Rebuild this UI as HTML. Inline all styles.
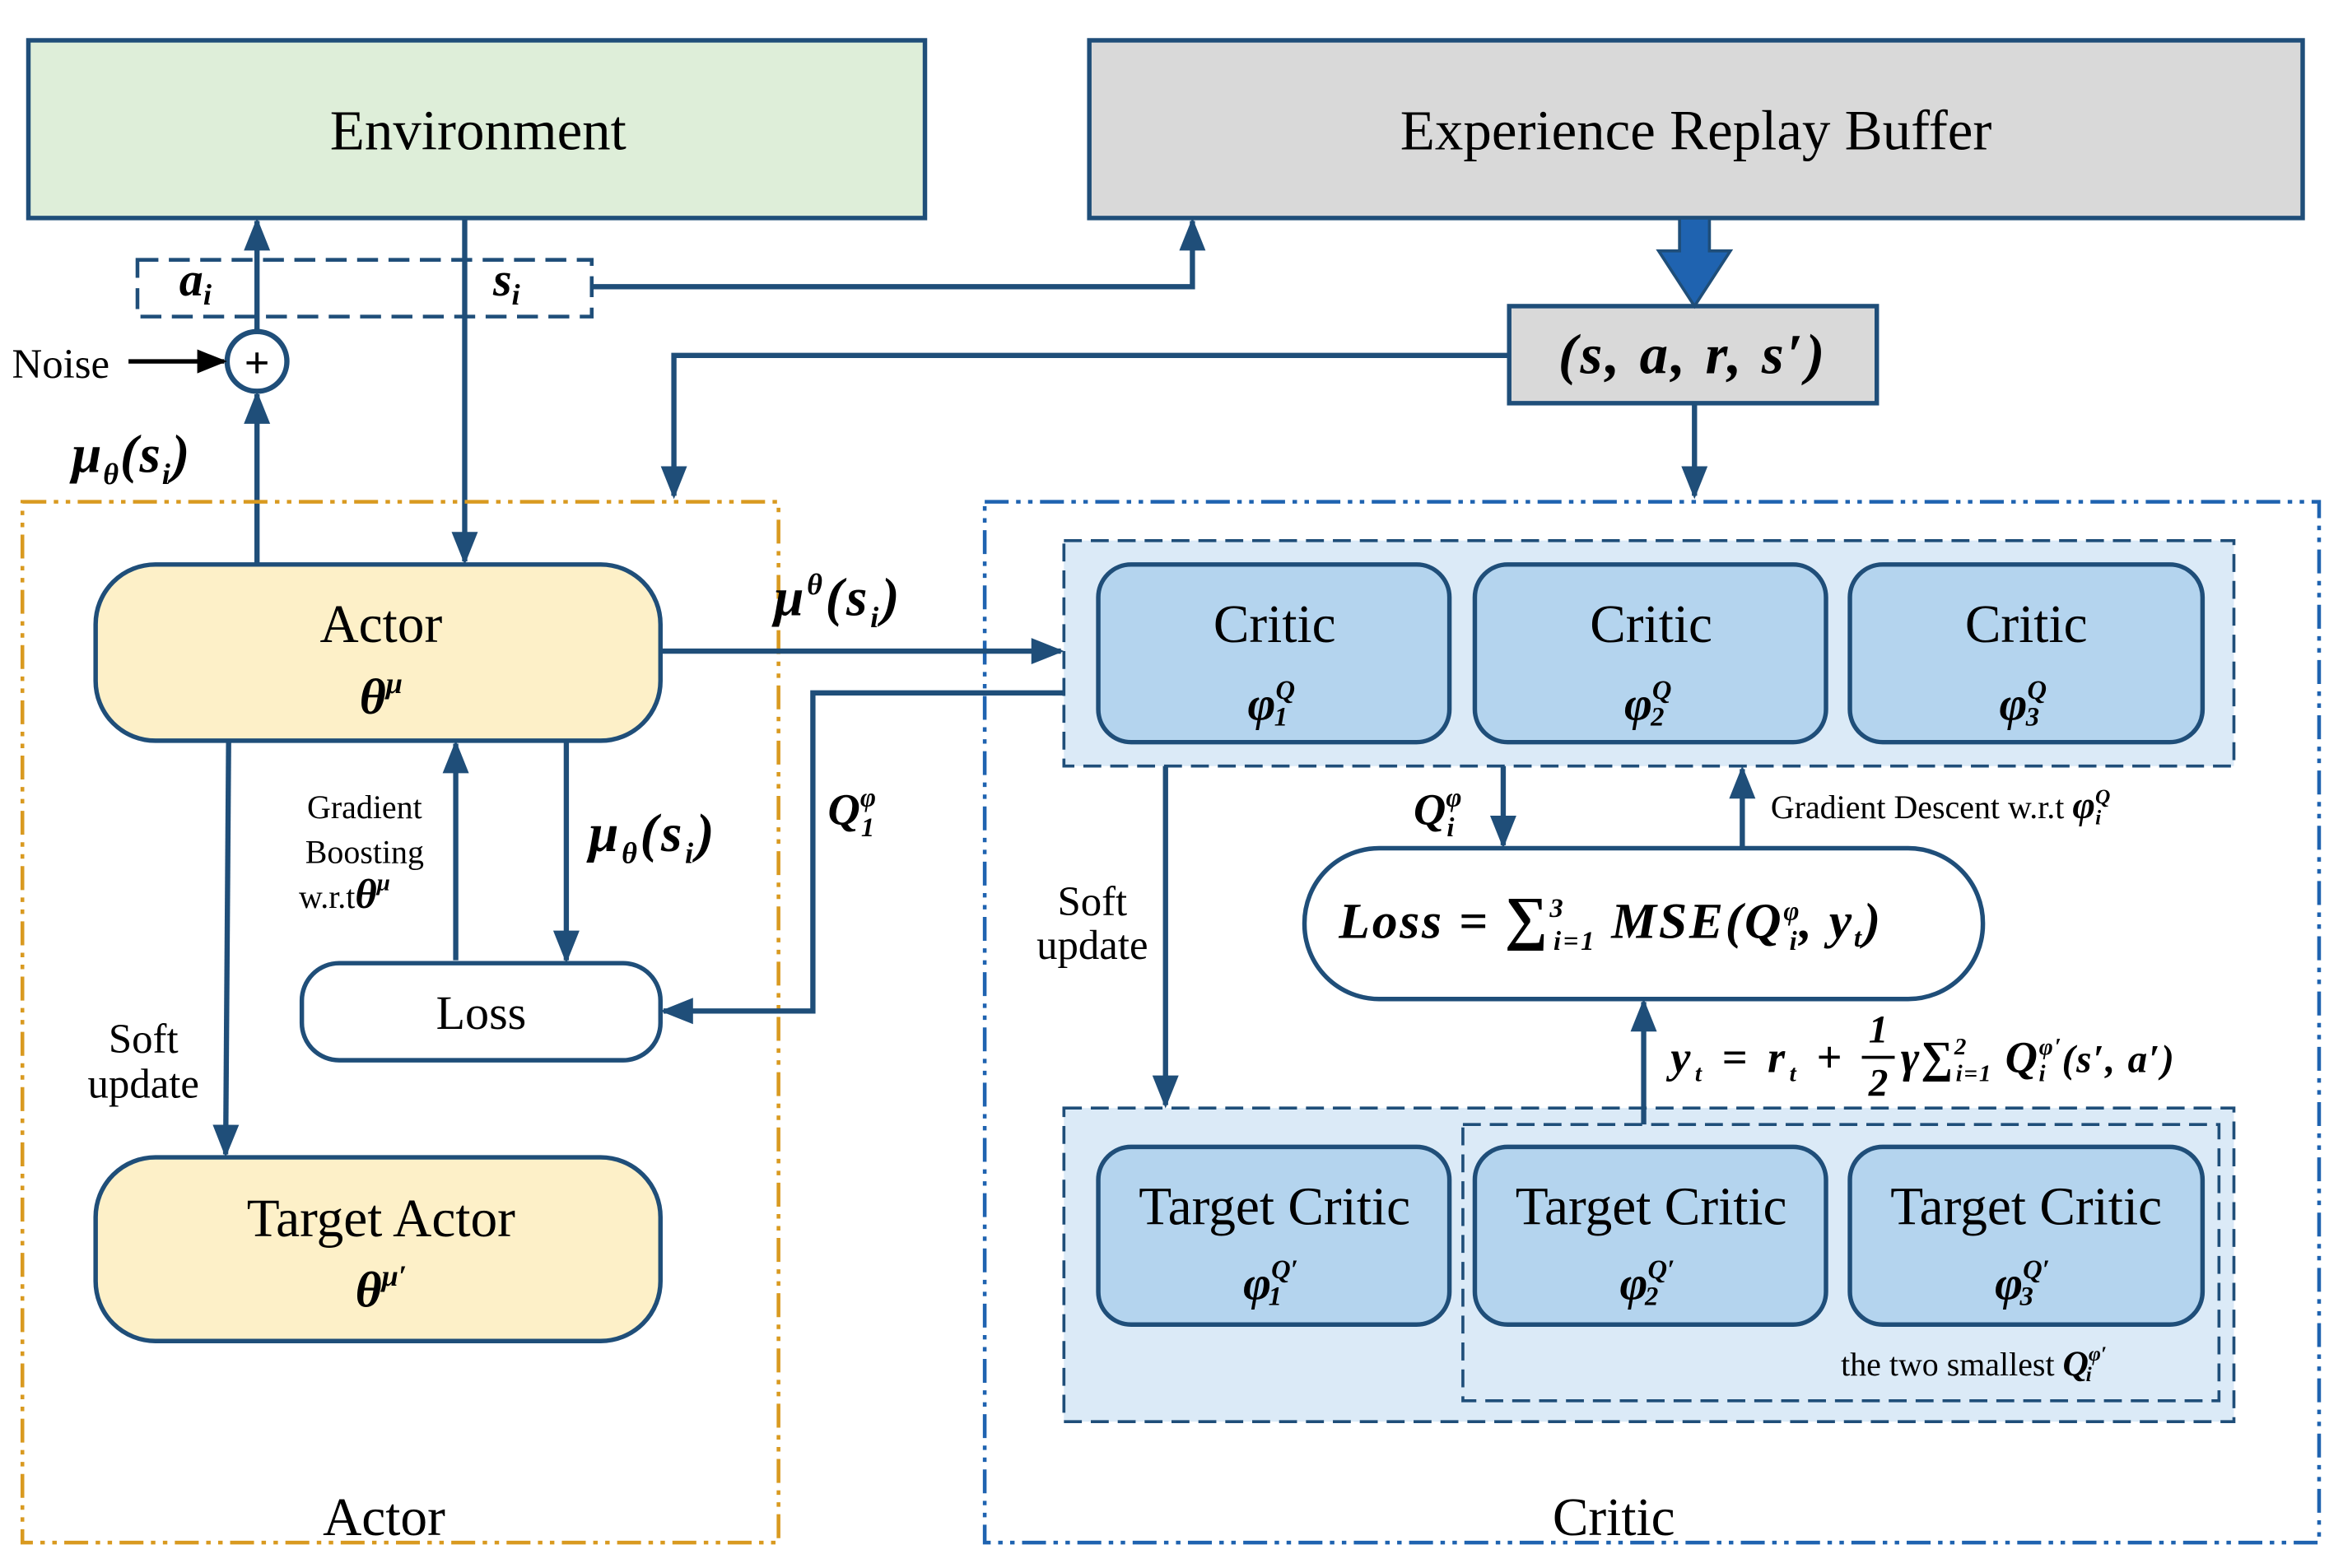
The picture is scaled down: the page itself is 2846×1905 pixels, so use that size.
<!DOCTYPE html>
<html><head><meta charset="utf-8"><style>
html,body{margin:0;padding:0;background:#fff;}
svg{display:block;}
text{font-family:"Liberation Serif",serif;fill:#000;}
.m{font-style:italic;font-weight:bold;}
</style></head><body>
<svg width="2846" height="1905" viewBox="0 0 1568 1050" preserveAspectRatio="none" xmlns="http://www.w3.org/2000/svg">
<defs>
<marker id="a" viewBox="0 0 10 10" refX="9" refY="5" markerWidth="22" markerHeight="22" markerUnits="userSpaceOnUse" orient="auto"><path d="M0,1 L10,5 L0,9 z" fill="#1f4e79"/></marker>
<marker id="b" viewBox="0 0 10 10" refX="9" refY="5" markerWidth="20" markerHeight="20" markerUnits="userSpaceOnUse" orient="auto"><path d="M0,1 L10,5 L0,9 z" fill="#000"/></marker>
</defs>
<g stroke="#1f4e79" stroke-width="3">
<rect x="19" y="27" width="600" height="119" fill="#deeed9"/>
<rect x="729" y="27" width="812" height="119" fill="#d9d9d9"/>
<rect x="92" y="174" width="304" height="38" fill="none" stroke-dasharray="14,7" stroke-width="2.5"/>
<rect x="1010" y="205" width="246" height="65" fill="#d9d9d9"/>
</g>
<text x="320" y="100" font-size="38" text-anchor="middle">Environment</text>
<text x="1135" y="100" font-size="38" text-anchor="middle">Experience Replay Buffer</text>
<text x="120" y="198" font-size="32" class="m">a<tspan font-size="20" dy="6">i</tspan></text>
<text x="330" y="198" font-size="32" class="m">s<tspan font-size="20" dy="6">i</tspan></text>
<text x="1133" y="250" font-size="38" text-anchor="middle" class="m" letter-spacing="2">(s, a, r, s′)</text>
<path d="M1124,146 L1144,146 L1144,168 L1158,168 L1134,205 L1110,168 L1124,168 z" fill="#1f63b0" stroke="#1f4e79" stroke-width="2"/>
<g stroke="#1f4e79" stroke-width="3.5" fill="none">
<line x1="172" y1="222" x2="172" y2="148" marker-end="url(#a)"/>
<line x1="172" y1="378" x2="172" y2="264" marker-end="url(#a)"/>
<line x1="311" y1="146" x2="311" y2="376" marker-end="url(#a)"/>
<polyline points="396,192 798,192 798,148" marker-end="url(#a)"/>
<polyline points="1010,238 451,238 451,332" marker-end="url(#a)"/>
<line x1="1134" y1="270" x2="1134" y2="332" marker-end="url(#a)"/>
<circle cx="172" cy="242" r="20" fill="#fff"/>
</g>
<text x="172" y="253" font-size="30" text-anchor="middle" font-weight="bold">+</text>
<line x1="86" y1="242" x2="150" y2="242" stroke="#000" stroke-width="3" marker-end="url(#b)"/>
<text x="8" y="253" font-size="28">Noise</text>
<text x="48" y="316" font-size="36" class="m" letter-spacing="1">μ<tspan font-size="20" dy="8">θ</tspan><tspan dy="-8">(s</tspan><tspan font-size="20" dy="8">i</tspan><tspan dy="-8">)</tspan></text>
<rect x="15" y="336" width="506" height="697" fill="none" stroke="#d99a20" stroke-width="2.5" stroke-dasharray="16,5,3,5,3,5"/>
<rect x="659" y="336" width="893" height="697" fill="none" stroke="#1f63b0" stroke-width="2.5" stroke-dasharray="16,5,3,5,3,5"/>
<text x="257" y="1028" font-size="36" text-anchor="middle">Actor</text>
<text x="1080" y="1028" font-size="36" text-anchor="middle">Critic</text>
<g stroke="#1f4e79" stroke-width="3">
<rect x="64" y="378" width="378" height="118" rx="40" fill="#fdf0c8"/>
<rect x="64" y="775" width="378" height="123" rx="40" fill="#fdf0c8"/>
<rect x="202" y="645" width="240" height="65" rx="25" fill="#fff"/>
</g>
<text x="255" y="430" font-size="36" text-anchor="middle">Actor</text>
<text x="255" y="478" font-size="34" text-anchor="middle" class="m">θ<tspan font-size="20" dy="-14">μ</tspan></text>
<text x="255" y="828" font-size="36" text-anchor="middle">Target Actor</text>
<text x="255" y="875" font-size="34" text-anchor="middle" class="m">θ<tspan font-size="20" dy="-14">μ′</tspan></text>
<text x="322" y="689" font-size="32" text-anchor="middle">Loss</text>
<g stroke="#1f4e79" stroke-width="3.5" fill="none">
<line x1="153" y1="496" x2="151" y2="773" marker-end="url(#a)"/>
<line x1="305" y1="643" x2="305" y2="498" marker-end="url(#a)"/>
<line x1="379" y1="496" x2="379" y2="643" marker-end="url(#a)"/>
<line x1="442" y1="436" x2="710" y2="436" marker-end="url(#a)"/>
<polyline points="712,464 544,464 544,677 444,677" marker-end="url(#a)"/>
</g>
<text x="96" y="705" font-size="28" text-anchor="middle">Soft</text>
<text x="96" y="735" font-size="28" text-anchor="middle">update</text>
<text x="244" y="548" font-size="22" text-anchor="middle">Gradient</text>
<text x="244" y="578" font-size="22" text-anchor="middle">Boosting</text>
<text x="200" y="608" font-size="22">w.r.t<tspan class="m" font-size="28">θ</tspan><tspan class="m" font-size="16" dy="-12">μ</tspan></text>
<text x="394" y="570" font-size="36" class="m" letter-spacing="2">μ<tspan font-size="20" dy="8">θ</tspan><tspan dy="-8">(s</tspan><tspan font-size="20" dy="8">i</tspan><tspan dy="-8">)</tspan></text>
<text x="518" y="412" font-size="36" class="m" letter-spacing="2">μ<tspan font-size="20" dy="-14">θ</tspan><tspan dy="14">(s</tspan><tspan font-size="20" dy="8">i</tspan><tspan dy="-8">)</tspan></text>
<text x="554" y="552" font-size="30" class="m">Q<tspan font-size="18" dy="-12">φ</tspan><tspan font-size="18" dx="-10" dy="20">1</tspan></text>
<rect x="712" y="362" width="783" height="151" fill="#dbeaf7" stroke="#1f4e79" stroke-width="2" stroke-dasharray="12,6"/>
<rect x="712" y="742" width="783" height="210" fill="#dbeaf7" stroke="#1f4e79" stroke-width="2" stroke-dasharray="12,6"/>
<rect x="979" y="753" width="506" height="185" fill="none" stroke="#1f4e79" stroke-width="2" stroke-dasharray="12,6"/>
<g stroke="#1f4e79" stroke-width="3" fill="#b4d4ee">
<rect x="735" y="378" width="235" height="119" rx="22"/>
<rect x="987" y="378" width="235" height="119" rx="22"/>
<rect x="1238" y="378" width="236" height="119" rx="22"/>
<rect x="735" y="768" width="235" height="119" rx="22"/>
<rect x="987" y="768" width="235" height="119" rx="22"/>
<rect x="1238" y="768" width="236" height="119" rx="22"/>
<rect x="873" y="568" width="454" height="101" rx="50" fill="#fff"/>
</g>
<g font-size="36" text-anchor="middle">
<text x="853" y="430">Critic</text><text x="1105" y="430">Critic</text><text x="1356" y="430">Critic</text>
<text x="853" y="820">Target Critic</text><text x="1105" y="820">Target Critic</text><text x="1356" y="820">Target Critic</text>
</g>
<g font-size="32" class="m">
<text x="835" y="482">φ<tspan font-size="18" dy="-14">Q</tspan><tspan font-size="18" dx="-14" dy="18">1</tspan></text>
<text x="1087" y="482">φ<tspan font-size="18" dy="-14">Q</tspan><tspan font-size="18" dx="-14" dy="18">2</tspan></text>
<text x="1338" y="482">φ<tspan font-size="18" dy="-14">Q</tspan><tspan font-size="18" dx="-14" dy="18">3</tspan></text>
<text x="832" y="870">φ<tspan font-size="18" dy="-14">Q′</tspan><tspan font-size="18" dx="-20" dy="18">1</tspan></text>
<text x="1084" y="870">φ<tspan font-size="18" dy="-14">Q′</tspan><tspan font-size="18" dx="-20" dy="18">2</tspan></text>
<text x="1335" y="870">φ<tspan font-size="18" dy="-14">Q′</tspan><tspan font-size="18" dx="-20" dy="18">3</tspan></text>
</g>
<text x="896" y="628" font-size="34" class="m" letter-spacing="1.5">Loss = <tspan font-style="normal" font-size="40">∑</tspan><tspan font-size="18" dy="-14">3</tspan><tspan font-size="18" dx="-8" dy="22">i=1</tspan><tspan dy="-8"> MSE(Q</tspan><tspan font-size="18" dy="-12">φ</tspan><tspan font-size="18" dx="-8" dy="20">i</tspan><tspan dy="-8">, y</tspan><tspan font-size="18" dy="6">t</tspan><tspan dy="-6">)</tspan></text>
<g stroke="#1f4e79" stroke-width="3.5" fill="none">
<line x1="780" y1="513" x2="780" y2="740" marker-end="url(#a)"/>
<line x1="1006" y1="513" x2="1006" y2="566" marker-end="url(#a)"/>
<line x1="1166" y1="568" x2="1166" y2="515" marker-end="url(#a)"/>
<line x1="1100" y1="753" x2="1100" y2="671" marker-end="url(#a)"/>
</g>
<text x="731" y="613" font-size="28" text-anchor="middle">Soft</text>
<text x="731" y="642" font-size="28" text-anchor="middle">update</text>
<text x="946" y="552" font-size="30" class="m">Q<tspan font-size="18" dy="-12">φ</tspan><tspan font-size="18" dx="-10" dy="20">i</tspan></text>
<text x="1185" y="548" font-size="22">Gradient Descent w.r.t <tspan class="m" font-size="26">φ</tspan><tspan class="m" font-size="14" dy="-10">Q</tspan><tspan class="m" font-size="14" dx="-10" dy="14">i</tspan></text>
<text x="1118" y="718" font-size="30" class="m" letter-spacing="3">y<tspan font-size="16" dy="6">t</tspan><tspan dy="-6"> = r</tspan><tspan font-size="16" dy="6">t</tspan><tspan dy="-6"> +</tspan></text>
<text x="1257" y="698" font-size="26" class="m" text-anchor="middle">1</text>
<line x1="1246" y1="708" x2="1268" y2="708" stroke="#000" stroke-width="2"/>
<text x="1257" y="734" font-size="26" class="m" text-anchor="middle">2</text>
<text x="1272" y="718" font-size="30" class="m" letter-spacing="1">γ<tspan font-style="normal">∑</tspan><tspan font-size="16" dy="-12">2</tspan><tspan font-size="16" dx="-8" dy="18">i=1</tspan><tspan dy="-6"> Q</tspan><tspan font-size="16" dy="-12">φ′</tspan><tspan font-size="16" dx="-16" dy="18">i</tspan><tspan font-size="26" dx="10" dy="-6">(s′, a′)</tspan></text>
<text x="1232" y="921" font-size="22">the two smallest <tspan class="m" font-size="24">Q</tspan><tspan class="m" font-size="14" dy="-10">φ′</tspan><tspan class="m" font-size="14" dx="-14" dy="14">i</tspan></text>
</svg>
</body></html>
